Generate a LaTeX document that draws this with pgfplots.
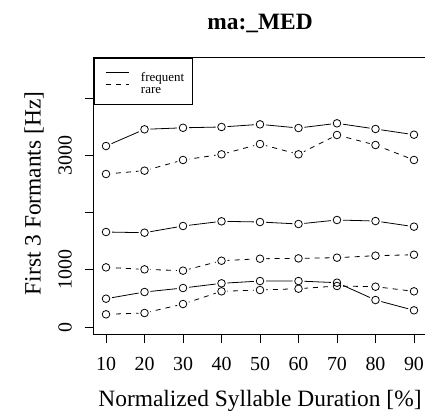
\documentclass[border=0pt]{standalone}
\usepackage{fontspec}
\setmainfont{Liberation Serif}
\usepackage{pgfplots}
\usepackage{pgfplotstable}
\pgfplotsset{compat=1.18}

% first three formants, frequent words
\pgfplotstableread{
x F1 F2 F3
10 495 1661 3164
20 612 1649 3456
30 682 1766 3483
40 764 1848 3497
50 804 1836 3543
60 804 1801 3479
70 775 1871 3561
80 472 1853 3462
90 292 1754 3362
}\freqtab
% rare words
\pgfplotstableread{
x F1 F2 F3
10 222 1043 2675
20 245 1008 2733
30 402 985 2920
40 624 1159 3019
50 647 1194 3199
60 670 1200 3019
70 717 1212 3357
80 705 1247 3182
90 624 1264 2920
}\raretab

% filled disc without outline, used to cut the lines short of the points
\pgfdeclareplotmark{disc}{\pgfpathcircle{\pgfpointorigin}{\pgfplotmarksize}\pgfusepathqfill}

\pgfplotsset{
  fline/.style={black, line width=0.8bp},
  rline/.style={black, line width=0.8bp, dash pattern=on 5bp off 5bp},
  gap/.style={only marks, mark=disc, mark size=6bp, mark options={fill=white}, forget plot},
  circ/.style={only marks, mark=o, mark size=3.8bp, mark options={black, line width=0.8bp}, forget plot},
}

\begin{document}
\begin{tikzpicture}
\begin{axis}[
  scale only axis, width=332.6bp, height=276bp,
  xmin=6.8, xmax=93.2, ymin=-122, ymax=4703,
  axis line style={line width=1bp},
  xtick={10,20,...,90}, ytick={0,1000,...,4000},
  yticklabels={0,1000,,3000,},
  xtick pos=left, ytick pos=left,
  tick align=outside, major tick length=9bp,
  tick style={black, line width=0.8bp},
  /pgf/number format/assume math mode=true,
  tick label style={font=\fontsize{20}{20}\selectfont},
  xticklabel style={anchor=base, inner sep=0pt},
  yticklabel style={rotate=90, anchor=base, inner sep=0pt},
  xticklabel shift=27bp, yticklabel shift=13bp,
  every axis title shift=0pt,
  title={ma:\_MED},
  title style={at={(rel axis cs:0.5,1.105)}, anchor=base, inner sep=0pt,
    font=\bfseries\fontsize{23.5}{23.5}\selectfont},
  xlabel={Normalized Syllable Duration [\%]},
  xlabel style={at={(rel axis cs:0.5,-0.2609)}, anchor=base, inner sep=0pt,
    font=\fontsize{23.5}{23.5}\selectfont},
  ylabel={First 3 Formants [Hz]},
  ylabel style={at={(rel axis cs:-0.1594,0.509)}, anchor=base, inner sep=0pt,
    font=\fontsize{23.5}{23.5}\selectfont},
  legend style={at={(rel axis cs:0,1)}, anchor=north west, draw=black, line width=1bp,
    inner xsep=0pt, inner ysep=11bp,
    font=\fontsize{13}{13}\selectfont,
    nodes={inner sep=0pt, text height=12bp, text depth=0bp, text width=51bp, align=left},
    row sep=0pt, column sep=0pt},
  legend cell align=left,
  legend image code/.code={
    \path (0bp,0bp) (46bp,0bp);
    \draw[#1, line width=0.8bp] (11bp,3.5bp) -- (34bp,3.5bp);
  },
]
% lines
\addplot[fline] table[x=x, y=F1] {\freqtab};
\addlegendentry{frequent}
\addplot[rline] table[x=x, y=F1] {\raretab};
\addlegendentry{rare}
\addplot[fline, forget plot] table[x=x, y=F2] {\freqtab};
\addplot[fline, forget plot] table[x=x, y=F3] {\freqtab};
\addplot[rline, forget plot] table[x=x, y=F2] {\raretab};
\addplot[rline, forget plot] table[x=x, y=F3] {\raretab};
% gaps round the points
\addplot[gap] table[x=x, y=F1] {\freqtab};
\addplot[gap] table[x=x, y=F2] {\freqtab};
\addplot[gap] table[x=x, y=F3] {\freqtab};
\addplot[gap] table[x=x, y=F1] {\raretab};
\addplot[gap] table[x=x, y=F2] {\raretab};
\addplot[gap] table[x=x, y=F3] {\raretab};
% points
\addplot[circ] table[x=x, y=F1] {\freqtab};
\addplot[circ] table[x=x, y=F2] {\freqtab};
\addplot[circ] table[x=x, y=F3] {\freqtab};
\addplot[circ] table[x=x, y=F1] {\raretab};
\addplot[circ] table[x=x, y=F2] {\raretab};
\addplot[circ] table[x=x, y=F3] {\raretab};
\end{axis}
\pgfresetboundingbox
\path[use as bounding box] (current axis.south west) ++(-93.7bp,-78bp) rectangle ++(425bp,412bp);
\end{tikzpicture}
\end{document}
